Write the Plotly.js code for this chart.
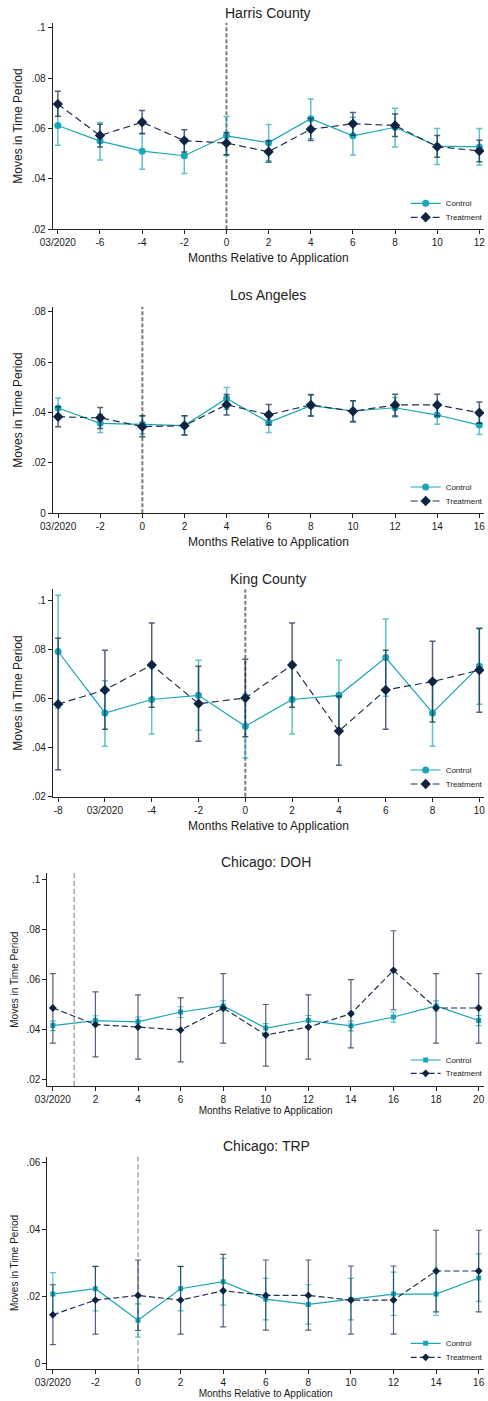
<!DOCTYPE html>
<html><head><meta charset="utf-8">
<script src="https://cdn.plot.ly/plotly-3.0.1.min.js"></script>
<style>html,body{margin:0;padding:0;background:#fff}#chart{width:488px;height:1401px}</style>
</head><body><div id="chart"></div>
<script>
// ---------- DATA ----------
// Harris County
const harrisX = [-8,-6,-4,-2,0,2,4,6,8,10,12];
const harrisTickText = ["03/2020","-6","-4","-2","0","2","4","6","8","10","12"];
const harrisControl   = [0.0612,0.0550,0.0510,0.0492,0.0571,0.0544,0.0639,0.0571,0.0605,0.0530,0.0527];
const harrisControlLo = [0.0534,0.0475,0.0438,0.0421,0.0494,0.0472,0.0559,0.0495,0.0527,0.0457,0.0454];
const harrisControlHi = [0.0690,0.0624,0.0581,0.0561,0.0648,0.0616,0.0717,0.0645,0.0680,0.0600,0.0600];
const harrisTreat     = [0.0697,0.0572,0.0625,0.0552,0.0542,0.0508,0.0597,0.0619,0.0612,0.0528,0.0511];
const harrisTreatLo   = [0.0649,0.0527,0.0579,0.0507,0.0496,0.0466,0.0552,0.0573,0.0568,0.0486,0.0468];
const harrisTreatHi   = [0.0748,0.0617,0.0672,0.0595,0.0584,0.0551,0.0640,0.0664,0.0658,0.0572,0.0553];

// Los Angeles
const laX = [-4,-2,0,2,4,6,8,10,12,14,16];
const laTickText = ["03/2020","-2","0","2","4","6","8","10","12","14","16"];
const laControl   = [0.0418,0.0357,0.0353,0.0348,0.0456,0.0361,0.0427,0.0406,0.0419,0.0390,0.0350];
const laControlLo = [0.0378,0.0321,0.0315,0.0311,0.0413,0.0321,0.0386,0.0365,0.0382,0.0353,0.0313];
const laControlHi = [0.0458,0.0393,0.0386,0.0387,0.0499,0.0397,0.0469,0.0446,0.0460,0.0430,0.0390];
const laTreat     = [0.0383,0.0379,0.0344,0.0348,0.0431,0.0391,0.0430,0.0405,0.0430,0.0430,0.0399];
const laTreatLo   = [0.0344,0.0337,0.0304,0.0311,0.0390,0.0350,0.0386,0.0362,0.0386,0.0386,0.0357];
const laTreatHi   = [0.0423,0.0420,0.0387,0.0387,0.0472,0.0432,0.0472,0.0447,0.0473,0.0473,0.0442];

// King County
const kingX = [-8,-6,-4,-2,0,2,4,6,8,10];
const kingTickText = ["-8","03/2020","-4","-2","0","2","4","6","8","10"];
const kingControl   = [0.0793,0.0542,0.0597,0.0614,0.0488,0.0597,0.0614,0.0768,0.0542,0.0733];
const kingControlLo = [0.0561,0.0406,0.0456,0.0471,0.0358,0.0456,0.0471,0.0610,0.0406,0.0578];
const kingControlHi = [0.1023,0.0674,0.0738,0.0757,0.0618,0.0738,0.0757,0.0926,0.0678,0.0888];
const kingTreat     = [0.0578,0.0636,0.0738,0.0580,0.0603,0.0738,0.0468,0.0636,0.0670,0.0717];
const kingTreatLo   = [0.0310,0.0475,0.0565,0.0426,0.0445,0.0565,0.0328,0.0475,0.0505,0.0545];
const kingTreatHi   = [0.0847,0.0798,0.0909,0.0733,0.0761,0.0909,0.0610,0.0798,0.0835,0.0887];

// Chicago: DOH
const dohX = [0,2,4,6,8,10,12,14,16,18,20];
const dohTickText = ["03/2020","2","4","6","8","10","12","14","16","18","20"];
const dohControl   = [0.0417,0.0437,0.0432,0.0471,0.0495,0.0407,0.0437,0.0416,0.0451,0.0495,0.0437];
const dohControlLo = [0.0397,0.0420,0.0413,0.0449,0.0475,0.0387,0.0417,0.0396,0.0431,0.0475,0.0417];
const dohControlHi = [0.0435,0.0456,0.0451,0.0492,0.0515,0.0425,0.0457,0.0435,0.0471,0.0515,0.0457];
const dohTreat     = [0.0487,0.0421,0.0411,0.0399,0.0487,0.0379,0.0411,0.0464,0.0637,0.0487,0.0487];
const dohTreatLo   = [0.0347,0.0292,0.0283,0.0272,0.0347,0.0255,0.0283,0.0328,0.0480,0.0347,0.0347];
const dohTreatHi   = [0.0624,0.0551,0.0539,0.0527,0.0624,0.0501,0.0539,0.0600,0.0795,0.0624,0.0624];

// Chicago: TRP
const trpX = [-4,-2,0,2,4,6,8,10,12,14,16];
const trpTickText = ["03/2020","-2","0","2","4","6","8","10","12","14","16"];
const trpControl   = [0.0207,0.0223,0.0129,0.0223,0.0244,0.0192,0.0176,0.0191,0.0207,0.0207,0.0255];
const trpControlLo = [0.0143,0.0157,0.0078,0.0157,0.0174,0.0130,0.0117,0.0130,0.0143,0.0143,0.0185];
const trpControlHi = [0.0271,0.0289,0.0178,0.0289,0.0314,0.0254,0.0235,0.0254,0.0273,0.0271,0.0327];
const trpTreat     = [0.0145,0.0189,0.0203,0.0189,0.0217,0.0203,0.0203,0.0189,0.0189,0.0276,0.0276];
const trpTreatLo   = [0.0056,0.0087,0.0098,0.0087,0.0109,0.0099,0.0099,0.0087,0.0087,0.0154,0.0154];
const trpTreatHi   = [0.0235,0.0290,0.0309,0.0290,0.0326,0.0309,0.0309,0.0291,0.0291,0.0398,0.0398];

const yTicks1 = [0.02,0.04,0.06,0.08,0.1];
const yTickText1 = [".02",".04",".06",".08",".1"];
const yTicksLA = [0,0.02,0.04,0.06,0.08];
const yTickTextLA = ["0",".02",".04",".06",".08"];
const yTicksTRP = [0,0.02,0.04,0.06];
const yTickTextTRP = ["0",".02",".04",".06"];

// ---------- LAYOUT ----------
const W = 488, H = 1401;
const FONT = "Liberation Sans, Arial, sans-serif";
const TEAL = "#19a6b6", NAVY = "#0f2442";

const panels = [
  {title:"Harris County", x:harrisX, tt:harrisTickText, c:harrisControl, cl:harrisControlLo, ch:harrisControlHi,
   t:harrisTreat, tl:harrisTreatLo, th:harrisTreatHi, yt:yTicks1, ytt:yTickText1,
   left:53, top:22.7, bottom:229.3, xr:[-8.25,12.22], yr:[0.02,0.102], app:0, big:true,
   tx:270.7, ty:12.7, legY:[203.3,217.3]},
  {title:"Los Angeles", x:laX, tt:laTickText, c:laControl, cl:laControlLo, ch:laControlHi,
   t:laTreat, tl:laTreatLo, th:laTreatHi, yt:yTicksLA, ytt:yTickTextLA,
   left:53.3, top:306.7, bottom:513.3, xr:[-4.25,16.22], yr:[0,0.082], app:0, big:true,
   tx:270.7, ty:295, legY:[487,501]},
  {title:"King County", x:kingX, tt:kingTickText, c:kingControl, cl:kingControlLo, ch:kingControlHi,
   t:kingTreat, tl:kingTreatLo, th:kingTreatHi, yt:yTicks1, ytt:yTickText1,
   left:53.3, top:589.3, bottom:796.7, xr:[-8.225,10.2], yr:[0.02,0.1047], app:0, big:true,
   tx:270.7, ty:579.3, legY:[770,784]},
  {title:"Chicago: DOH", x:dohX, tt:dohTickText, c:dohControl, cl:dohControlLo, ch:dohControlHi,
   t:dohTreat, tl:dohTreatLo, th:dohTreatHi, yt:yTicks1, ytt:yTickText1,
   left:47.7, top:873.3, bottom:1086, xr:[-0.26,20.25], yr:[0.0176,0.1024], app:1, big:false,
   tx:268.3, ty:862.3, legY:[1060,1073.3]},
  {title:"Chicago: TRP", x:trpX, tt:trpTickText, c:trpControl, cl:trpControlLo, ch:trpControlHi,
   t:trpTreat, tl:trpTreatLo, th:trpTreatHi, yt:yTicksTRP, ytt:yTickTextTRP,
   left:47.7, top:1156.7, bottom:1369.3, xr:[-4.26,16.25], yr:[-0.0018,0.0618], app:0, big:false,
   tx:268.3, ty:1146, legY:[1343.3,1357.3]}
];

const data = [];
const layout = {
  width:W, height:H, margin:{l:0,r:0,t:0,b:0},
  paper_bgcolor:"#fff", plot_bgcolor:"#fff",
  font:{family:FONT, color:"#1a1a1a", size:10},
  showlegend:true, shapes:[], annotations:[]
};

panels.forEach((p, i) => {
  const n = i + 1;
  const xa = "x" + (n === 1 ? "" : n), ya = "y" + (n === 1 ? "" : n);
  const xk = "xaxis" + (n === 1 ? "" : n), yk = "yaxis" + (n === 1 ? "" : n);
  const lc = "legend" + (2*i+1 === 1 ? "" : 2*i+1), lt = "legend" + (2*i+2);
  const lw = 1.2;
  data.push({
    type:"scatter", mode:"lines+markers", name:"Control", x:p.x, y:p.c, xaxis:xa, yaxis:ya, legend:lc,
    line:{color:TEAL, width:lw},
    marker:{color:TEAL, size:p.big?7:5, symbol:p.big?"circle":"square"},
    error_y:{type:"data", symmetric:false,
      array:p.ch.map((v,k)=>v-p.c[k]), arrayminus:p.c.map((v,k)=>v-p.cl[k]),
      color:"rgba(25,166,182,0.7)", thickness:p.big?1.5:1.2, width:3}
  });
  data.push({
    type:"scatter", mode:"lines+markers", name:"Treatment", x:p.x, y:p.t, xaxis:xa, yaxis:ya, legend:lt,
    line:{color:"#1f3150", width:lw, dash:p.big?"7px,4px":"6px,3px"},
    marker:{color:NAVY, size:p.big?8:6, symbol:"diamond"},
    error_y:{type:"data", symmetric:false,
      array:p.th.map((v,k)=>v-p.t[k]), arrayminus:p.t.map((v,k)=>v-p.tl[k]),
      color:"rgba(15,36,66,0.72)", thickness:p.big?1.5:1.2, width:3}
  });
  const axisCommon = {showline:true, linecolor:"#222", linewidth:1, ticks:"outside", ticklen:4,
    tickcolor:"#222", showgrid:false, zeroline:false, tickfont:{size:10, color:"#1a1a1a"}};
  layout[xk] = Object.assign({}, axisCommon, {
    domain:[p.left/W, 1], anchor:ya, range:p.xr, tickmode:"array", tickvals:p.x, ticktext:p.tt,
    automargin:"height",
    title:{text:"Months Relative to Application", font:{size:p.big?12:10}, standoff:p.big?6:2}
  });
  layout[yk] = Object.assign({}, axisCommon, {
    domain:[1-p.bottom/H, 1-p.top/H], anchor:xa, range:p.yr, tickmode:"array", tickvals:p.yt, ticktext:p.ytt,
    automargin:"width",
    title:{text:"Moves in Time Period", font:{size:p.big?12:10}, standoff:p.big?6:5}
  });
  layout.shapes.push({type:"line", xref:xa, yref:ya+" domain", x0:p.app, x1:p.app, y0:0, y1:1,
    layer:"below", line:{color:"#7a7a7a", width:p.big?2:1, dash:p.big?"4px,2px":"5px,3px"}});
  layout.annotations.push({text:p.title, xref:"paper", yref:"paper", x:p.tx/W, y:1-p.ty/H,
    xanchor:"center", yanchor:"middle", showarrow:false,
    font:{size:14, color:"#222", family:FONT, weight:"normal"}});
  const legBase = {xref:"paper", yref:"paper", x:409/W, xanchor:"left", yanchor:"middle",
    bgcolor:"rgba(0,0,0,0)", borderwidth:0, itemwidth:30, font:{size:8, color:"#1a1a1a"}};
  layout[lc] = Object.assign({}, legBase, {y:1-p.legY[0]/H});
  layout[lt] = Object.assign({}, legBase, {y:1-p.legY[1]/H});
});

Plotly.newPlot("chart", data, layout, {displayModeBar:false, staticPlot:true});
</script>
</body></html>
